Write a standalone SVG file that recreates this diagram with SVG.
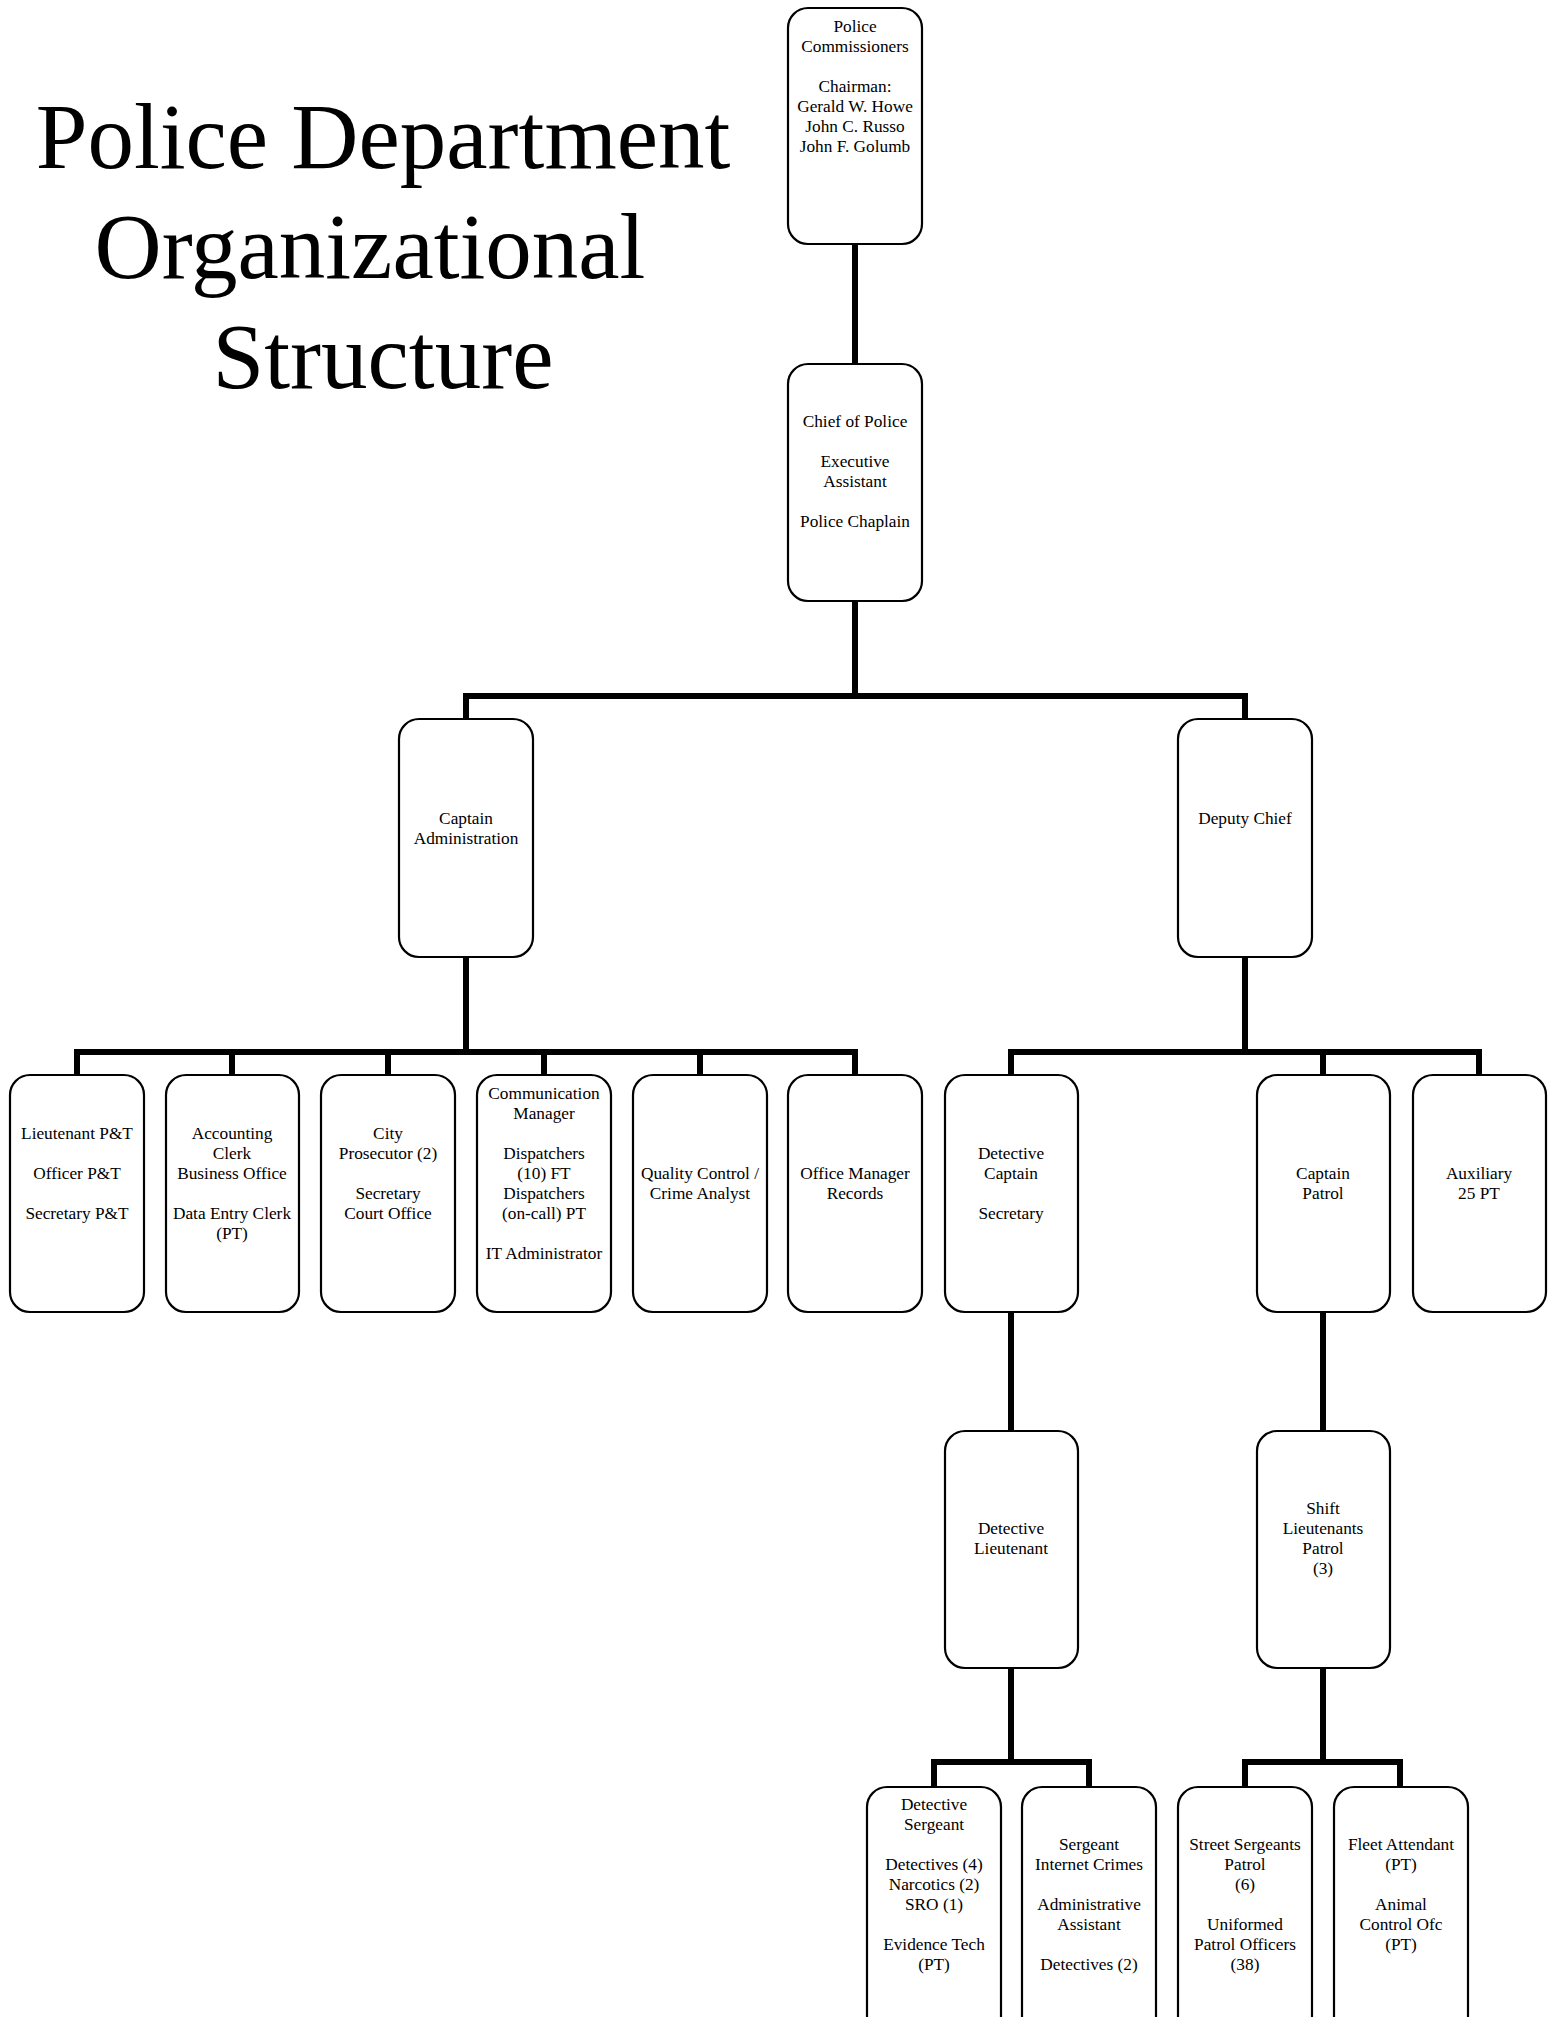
<svg xmlns="http://www.w3.org/2000/svg" width="1551" height="2017" viewBox="0 0 1551 2017">
<style>
.box{fill:#fff;stroke:#000;stroke-width:2.2}
.t{font-family:"Liberation Serif","Times New Roman",serif;font-size:17.3px;fill:#000;text-anchor:middle}
.title{font-family:"Liberation Serif","Times New Roman",serif;font-size:93px;fill:#000;text-anchor:middle}
.c{fill:none;stroke:#000;stroke-width:6;stroke-linejoin:miter;stroke-linecap:butt}
</style>
<rect width="1551" height="2017" fill="#fff"/>
<g id="title">
<text class="title" x="383" y="168">Police Department</text>
<text class="title" x="370" y="278">Organizational</text>
<text class="title" x="383" y="388">Structure</text>
</g>
<g id="connectors">
<path class="c" d="M855 244V364"/>
<path class="c" d="M855 601V696"/>
<path class="c" d="M466 719V696H1245V719"/>
<path class="c" d="M466 957V1052"/>
<path class="c" d="M77 1075V1052H855V1075"/>
<path class="c" d="M232 1052V1075M388 1052V1075M544 1052V1075M700 1052V1075"/>
<path class="c" d="M1245 957V1052"/>
<path class="c" d="M1011 1075V1052H1479V1075"/>
<path class="c" d="M1323 1052V1075"/>
<path class="c" d="M1011 1312V1430"/>
<path class="c" d="M1323 1312V1430"/>
<path class="c" d="M1011 1668V1762"/>
<path class="c" d="M934 1787V1762H1089V1787"/>
<path class="c" d="M1323 1668V1762"/>
<path class="c" d="M1245 1787V1762H1400V1787"/>
</g>
<g id="commissioners">
<rect class="box" x="788" y="8" width="134" height="236" rx="20"/>
<text class="t" x="855" y="32">Police</text>
<text class="t" x="855" y="52">Commissioners</text>
<text class="t" x="855" y="92">Chairman:</text>
<text class="t" x="855" y="112">Gerald W. Howe</text>
<text class="t" x="855" y="132">John C. Russo</text>
<text class="t" x="855" y="152">John F. Golumb</text>
</g>
<g id="chief">
<rect class="box" x="788" y="364" width="134" height="237" rx="20"/>
<text class="t" x="855" y="427">Chief of Police</text>
<text class="t" x="855" y="467">Executive</text>
<text class="t" x="855" y="487">Assistant</text>
<text class="t" x="855" y="527">Police Chaplain</text>
</g>
<g id="captain-admin">
<rect class="box" x="399" y="719" width="134" height="238" rx="20"/>
<text class="t" x="466" y="824">Captain</text>
<text class="t" x="466" y="844">Administration</text>
</g>
<g id="deputy-chief">
<rect class="box" x="1178" y="719" width="134" height="238" rx="20"/>
<text class="t" x="1245" y="824">Deputy Chief</text>
</g>
<g id="lieutenant-pt">
<rect class="box" x="10" y="1075" width="134" height="237" rx="20"/>
<text class="t" x="77" y="1139">Lieutenant P&amp;T</text>
<text class="t" x="77" y="1179">Officer P&amp;T</text>
<text class="t" x="77" y="1219">Secretary P&amp;T</text>
</g>
<g id="accounting">
<rect class="box" x="166" y="1075" width="133" height="237" rx="20"/>
<text class="t" x="232" y="1139">Accounting</text>
<text class="t" x="232" y="1159">Clerk</text>
<text class="t" x="232" y="1179">Business Office</text>
<text class="t" x="232" y="1219">Data Entry Clerk</text>
<text class="t" x="232" y="1239">(PT)</text>
</g>
<g id="city-prosecutor">
<rect class="box" x="321" y="1075" width="134" height="237" rx="20"/>
<text class="t" x="388" y="1139">City</text>
<text class="t" x="388" y="1159">Prosecutor (2)</text>
<text class="t" x="388" y="1199">Secretary</text>
<text class="t" x="388" y="1219">Court Office</text>
</g>
<g id="communication">
<rect class="box" x="477" y="1075" width="134" height="237" rx="20"/>
<text class="t" x="544" y="1099">Communication</text>
<text class="t" x="544" y="1119">Manager</text>
<text class="t" x="544" y="1159">Dispatchers</text>
<text class="t" x="544" y="1179">(10) FT</text>
<text class="t" x="544" y="1199">Dispatchers</text>
<text class="t" x="544" y="1219">(on-call) PT</text>
<text class="t" x="544" y="1259">IT Administrator</text>
</g>
<g id="quality-control">
<rect class="box" x="633" y="1075" width="134" height="237" rx="20"/>
<text class="t" x="700" y="1179">Quality Control /</text>
<text class="t" x="700" y="1199">Crime Analyst</text>
</g>
<g id="office-manager">
<rect class="box" x="788" y="1075" width="134" height="237" rx="20"/>
<text class="t" x="855" y="1179">Office Manager</text>
<text class="t" x="855" y="1199">Records</text>
</g>
<g id="detective-captain">
<rect class="box" x="945" y="1075" width="133" height="237" rx="20"/>
<text class="t" x="1011" y="1159">Detective</text>
<text class="t" x="1011" y="1179">Captain</text>
<text class="t" x="1011" y="1219">Secretary</text>
</g>
<g id="captain-patrol">
<rect class="box" x="1257" y="1075" width="133" height="237" rx="20"/>
<text class="t" x="1323" y="1179">Captain</text>
<text class="t" x="1323" y="1199">Patrol</text>
</g>
<g id="auxiliary">
<rect class="box" x="1413" y="1075" width="133" height="237" rx="20"/>
<text class="t" x="1479" y="1179">Auxiliary</text>
<text class="t" x="1479" y="1199">25 PT</text>
</g>
<g id="detective-lieutenant">
<rect class="box" x="945" y="1431" width="133" height="237" rx="20"/>
<text class="t" x="1011" y="1534">Detective</text>
<text class="t" x="1011" y="1554">Lieutenant</text>
</g>
<g id="shift-lieutenants">
<rect class="box" x="1257" y="1431" width="133" height="237" rx="20"/>
<text class="t" x="1323" y="1514">Shift</text>
<text class="t" x="1323" y="1534">Lieutenants</text>
<text class="t" x="1323" y="1554">Patrol</text>
<text class="t" x="1323" y="1574">(3)</text>
</g>
<g id="detective-sergeant">
<rect class="box" x="867" y="1787" width="134" height="260" rx="20"/>
<text class="t" x="934" y="1810">Detective</text>
<text class="t" x="934" y="1830">Sergeant</text>
<text class="t" x="934" y="1870">Detectives (4)</text>
<text class="t" x="934" y="1890">Narcotics (2)</text>
<text class="t" x="934" y="1910">SRO (1)</text>
<text class="t" x="934" y="1950">Evidence Tech</text>
<text class="t" x="934" y="1970">(PT)</text>
</g>
<g id="sergeant-internet">
<rect class="box" x="1022" y="1787" width="134" height="260" rx="20"/>
<text class="t" x="1089" y="1850">Sergeant</text>
<text class="t" x="1089" y="1870">Internet Crimes</text>
<text class="t" x="1089" y="1910">Administrative</text>
<text class="t" x="1089" y="1930">Assistant</text>
<text class="t" x="1089" y="1970">Detectives (2)</text>
</g>
<g id="street-sergeants">
<rect class="box" x="1178" y="1787" width="134" height="260" rx="20"/>
<text class="t" x="1245" y="1850">Street Sergeants</text>
<text class="t" x="1245" y="1870">Patrol</text>
<text class="t" x="1245" y="1890">(6)</text>
<text class="t" x="1245" y="1930">Uniformed</text>
<text class="t" x="1245" y="1950">Patrol Officers</text>
<text class="t" x="1245" y="1970">(38)</text>
</g>
<g id="fleet-attendant">
<rect class="box" x="1334" y="1787" width="134" height="260" rx="20"/>
<text class="t" x="1401" y="1850">Fleet Attendant</text>
<text class="t" x="1401" y="1870">(PT)</text>
<text class="t" x="1401" y="1910">Animal</text>
<text class="t" x="1401" y="1930">Control Ofc</text>
<text class="t" x="1401" y="1950">(PT)</text>
</g>
</svg>
